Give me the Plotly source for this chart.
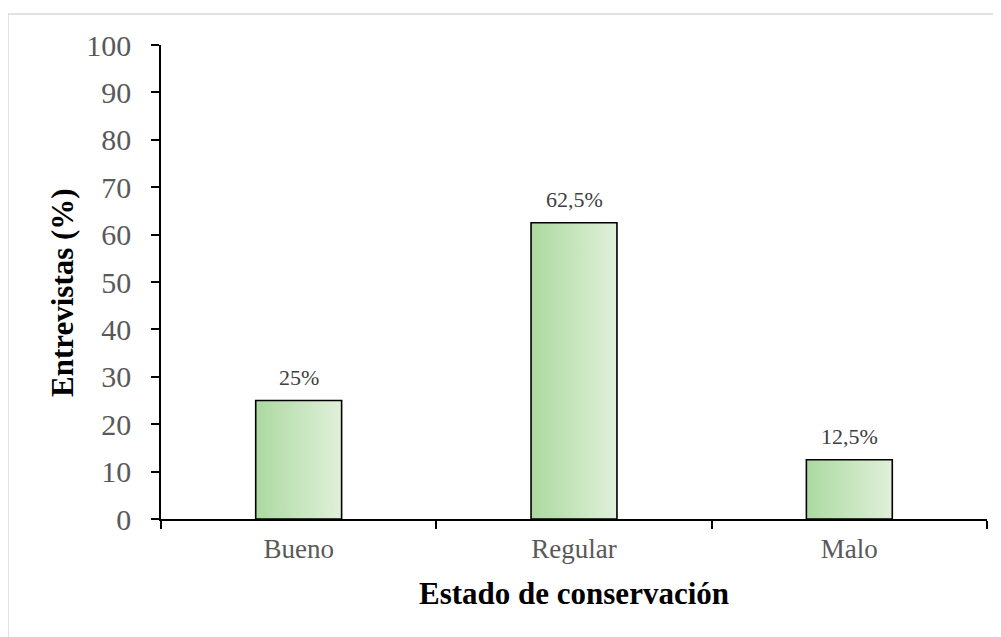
import plotly.graph_objects as go

categories = ["Bueno", "Regular", "Malo"]
values = [25, 62.5, 12.5]
value_labels = ["25%", "62,5%", "12,5%"]
y_ticks = [0, 10, 20, 30, 40, 50, 60, 70, 80, 90, 100]

FONT = "Times New Roman, Liberation Serif, serif"
BAR_W = 0.312
GRAD = [[0, "#acd9a0"], [1, "#e0f0da"]]

fig = go.Figure()

# bars as filled shapes so they can carry a gradient
for i, v in enumerate(values):
    fig.add_trace(go.Scatter(
        x=[i - BAR_W / 2, i + BAR_W / 2, i + BAR_W / 2, i - BAR_W / 2, i - BAR_W / 2],
        y=[0, 0, v, v, 0],
        mode="lines", fill="toself",
        fillgradient=dict(type="horizontal", colorscale=GRAD),
        line=dict(color="black", width=1.6),
        hoverinfo="skip", showlegend=False,
    ))
    fig.add_annotation(
        x=i, y=v, text=value_labels[i], showarrow=False,
        yanchor="bottom", yshift=9,
        font=dict(family=FONT, size=22, color="#404040"),
    )

# y title placed by hand (sits a little below the plot centre)
fig.add_annotation(
    xref="paper", yref="paper", x=-0.1192, y=0.478,
    text="<b>Entrevistas (%)</b>", textangle=-90, showarrow=False,
    xanchor="center", yanchor="middle",
    font=dict(family=FONT, size=31, color="black"),
)

# light frame around the chart area
fig.add_shape(type="rect", xref="paper", yref="paper",
              x0=-0.1852, x1=1.1, y0=-0.4, y1=1.0654,
              line=dict(color="#d9d9d9", width=1.5), layer="below")

fig.update_layout(
    width=1001, height=637,
    paper_bgcolor="white", plot_bgcolor="white",
    margin=dict(l=153, r=22, t=37, b=126),
    font=dict(family=FONT, color="#595959"),
    showlegend=False,
)
fig.update_xaxes(
    range=[-0.5, len(categories) - 0.5],
    tickmode="array", tickvals=list(range(len(categories))), ticktext=categories,
    ticks="", tickfont=dict(size=27, color="#595959"), ticklabelstandoff=5,
    minor=dict(ticks="outside", ticklen=8, tickwidth=1.6, tickcolor="black",
               tickmode="array",
               tickvals=[k - 0.5 for k in range(len(categories) + 1)]),
    showline=True, linecolor="black", linewidth=1.6,
    showgrid=False, zeroline=False,
    title=dict(text="<b>Estado de conservación</b>",
               font=dict(size=31, color="black"), standoff=19),
)
fig.update_yaxes(
    range=[0, 100], tickmode="array", tickvals=y_ticks,
    ticks="outside", ticklen=8, tickwidth=1.6, tickcolor="black",
    tickfont=dict(size=30, color="#595959"), ticklabelstandoff=14,
    showline=True, linecolor="black", linewidth=1.6,
    showgrid=False, zeroline=False,
)

fig.write_html("out.html")
